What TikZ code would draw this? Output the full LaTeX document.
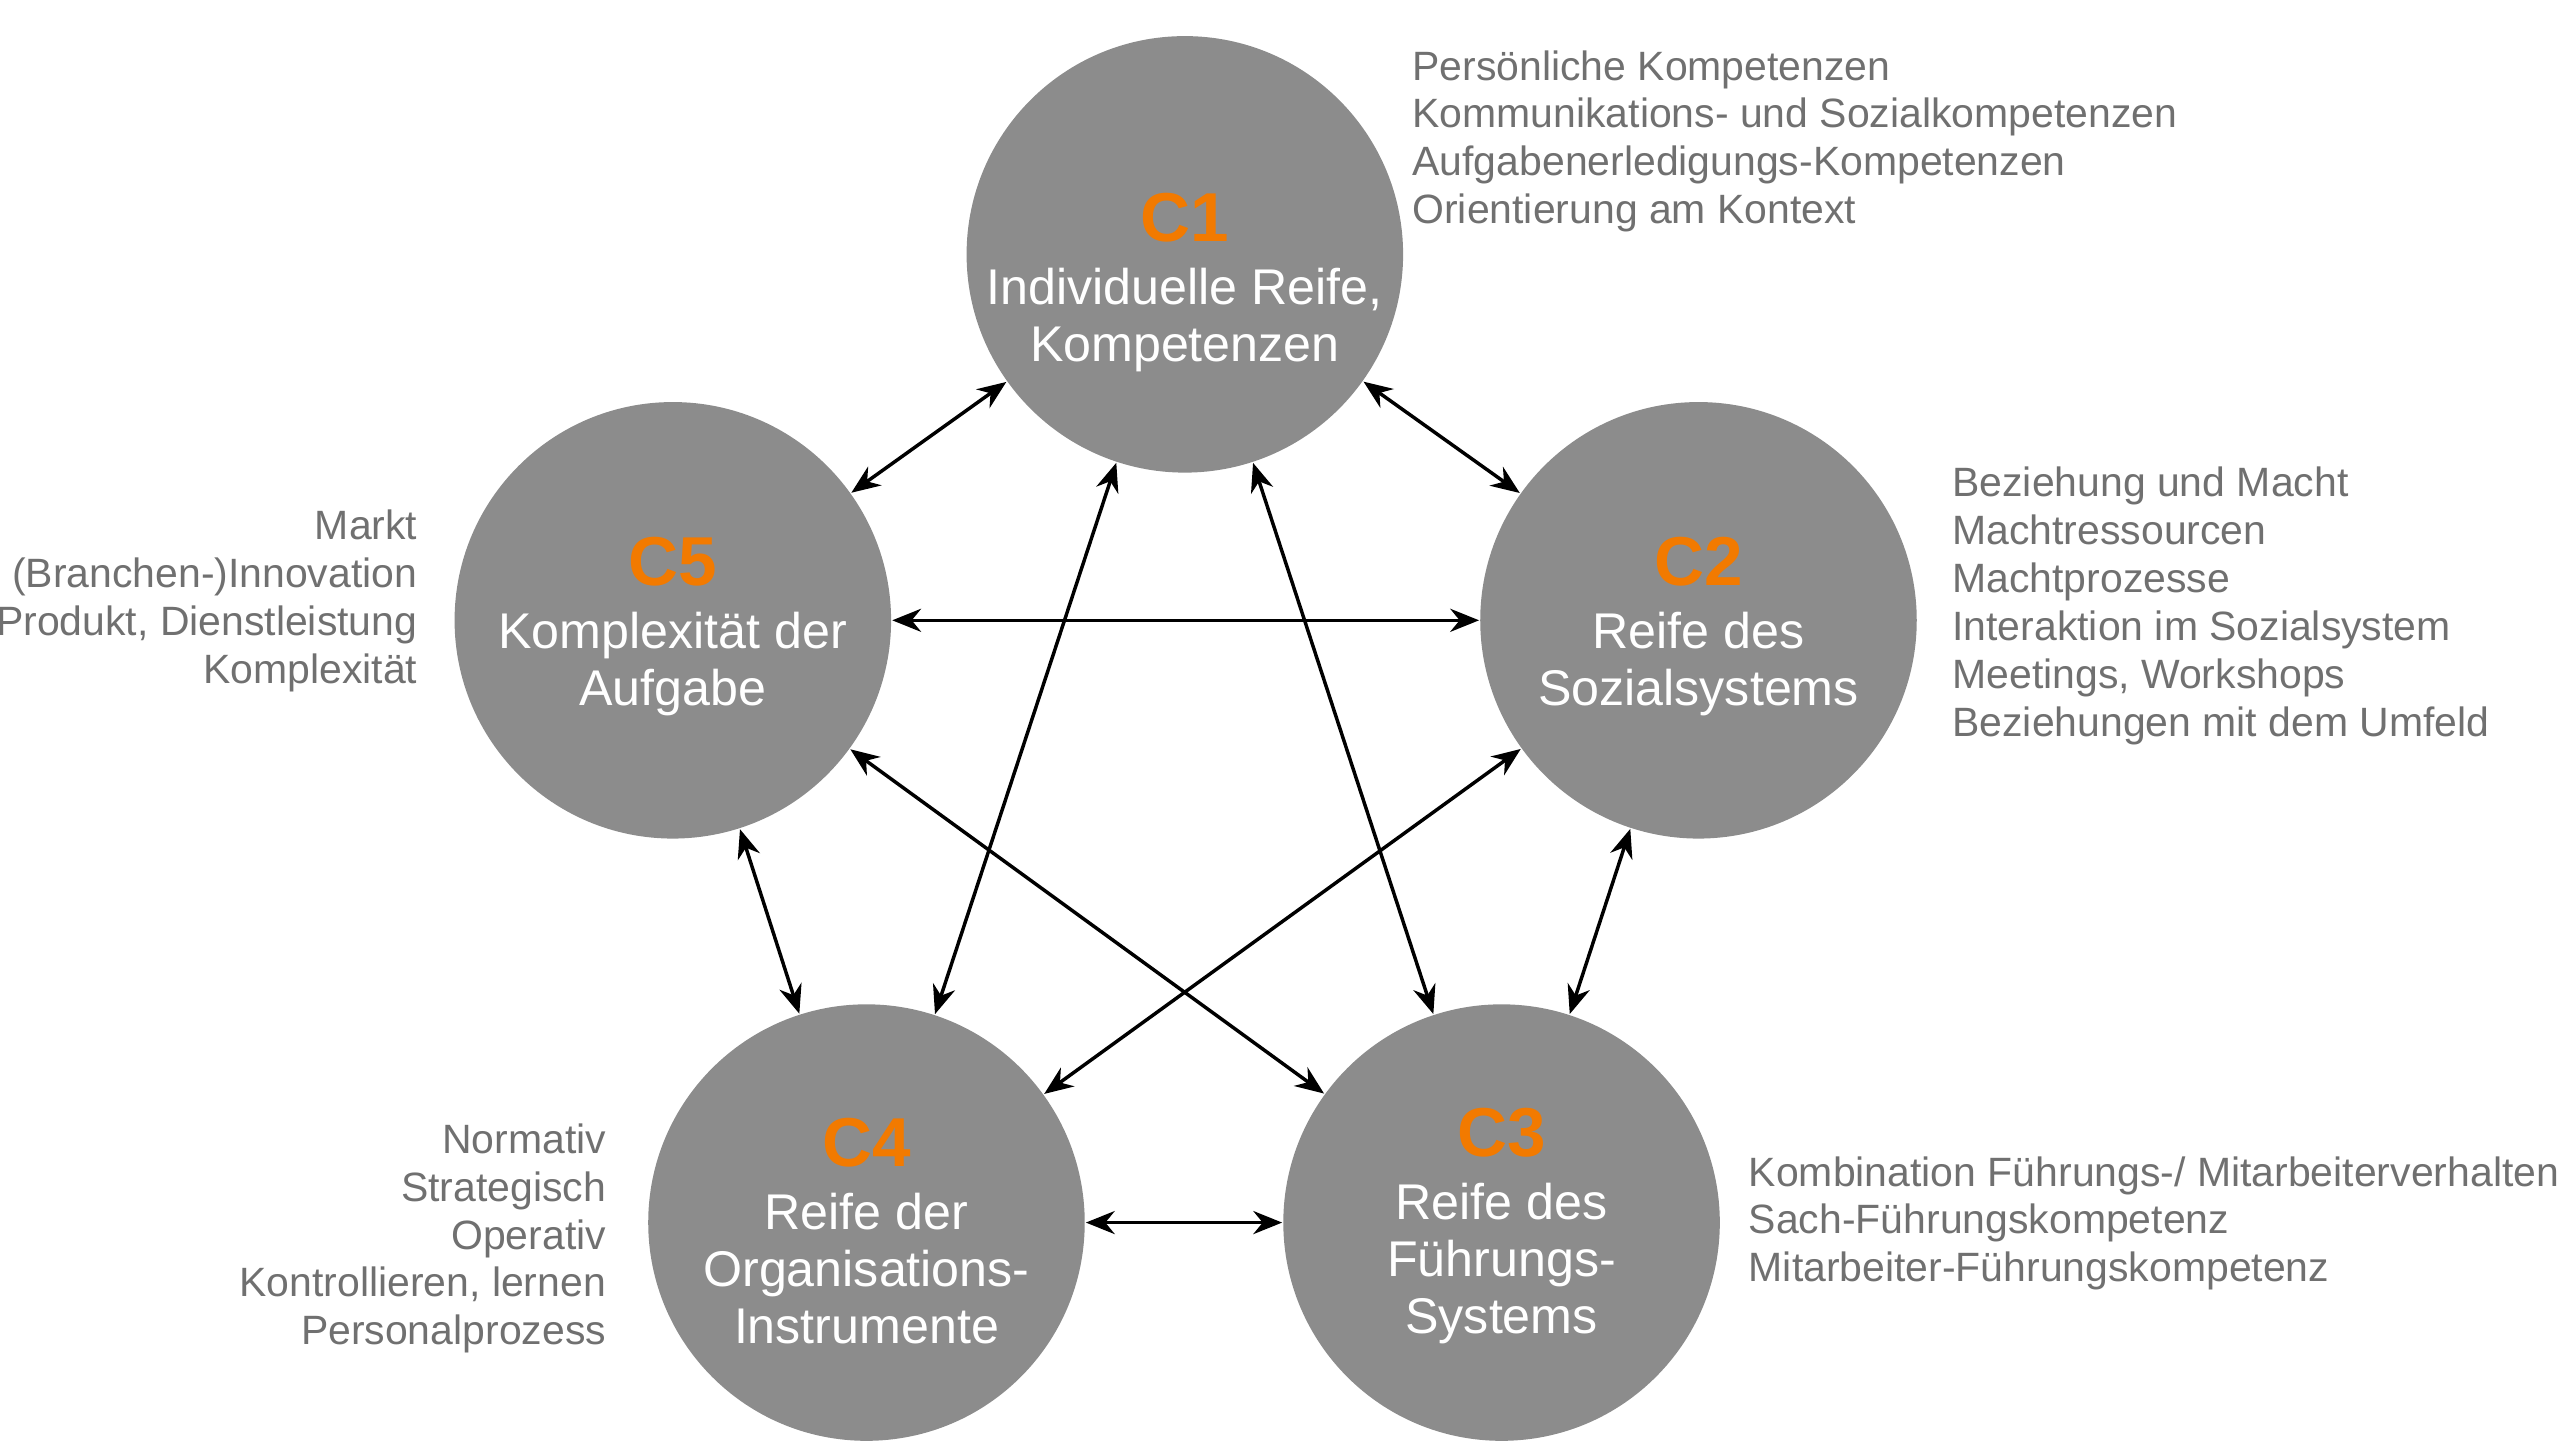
\documentclass[tikz,border=0pt]{standalone}
\usepackage{fontspec}
\setmainfont{Liberation Sans}
\usetikzlibrary{arrows.meta}
\definecolor{ballgray}{RGB}{140,140,140}
\definecolor{notegray}{RGB}{112,112,112}
\definecolor{corange}{RGB}{242,122,0}
\tikzset{
  ball/.style={circle,fill=ballgray,minimum size=2.66cm,inner sep=0pt},
  balltext/.style={align=center,text=white,font=\fontsize{8.7}{9.9}\selectfont},
  note/.style={inner sep=0pt,text=notegray,font=\fontsize{7.1}{8.3}\selectfont},
  link/.style={{Stealth[length=5pt,width=4pt]}-{Stealth[length=5pt,width=4pt]},line width=0.6pt}
}
\newcommand{\cnum}[1]{{\fontsize{12}{12}\selectfont\bfseries\color{corange}#1}}
\begin{document}
\begin{tikzpicture}
\useasboundingbox (0,0) rectangle (15.6,8.8);
% circles
\node[ball] (c1) at (7.22,7.25) {};
\node[ball] (c2) at (10.35,5.02) {};
\node[ball] (c3) at (9.15,1.35) {};
\node[ball] (c4) at (5.28,1.35) {};
\node[ball] (c5) at (4.10,5.02) {};
% texts inside
\node[balltext] (t1) at ([yshift=-0.17cm]c1.center) {\cnum{C1}\\[1pt]Individuelle Reife,\\Kompetenzen};
\node[balltext] (t2) at ([yshift=-0.04cm]c2.center) {\cnum{C2}\\[1pt]Reife des\\Sozialsystems};
\node[balltext] (t3) at ([yshift=-0.02cm]c3.center) {\cnum{C3}\\[1pt]Reife des\\Führungs-\\Systems};
\node[balltext] (t4) at ([yshift=-0.05cm]c4.center) {\cnum{C4}\\[1pt]Reife der\\Organisations-\\Instrumente};
\node[balltext] (t5) at ([yshift=-0.04cm]c5.center) {\cnum{C5}\\[1pt]Komplexität der\\Aufgabe};
% arrows
\draw[link] (c1) -- (c2);
\draw[link] (c1) -- (c5);
\draw[link] (c1) -- (c3);
\draw[link] (c1) -- (c4);
\draw[link] (c2) -- (c5);
\draw[link] (c2) -- (c3);
\draw[link] (c2) -- (c4);
\draw[link] (c5) -- (c4);
\draw[link] (c5) -- (c3);
\draw[link] (c4) -- (c3);
% notes
\node[note,anchor=north west,align=left] (n1) at (8.60,8.50) {Persönliche Kompetenzen\\Kommunikations- und Sozialkompetenzen\\Aufgabenerledigungs-Kompetenzen\\Orientierung am Kontext};
\node[note,anchor=north west,align=left] (n2) at (11.89,5.96) {Beziehung und Macht\\Machtressourcen\\Machtprozesse\\Interaktion im Sozialsystem\\Meetings, Workshops\\Beziehungen mit dem Umfeld};
\node[note,anchor=north west,align=left] (n3) at (10.65,1.76) {Kombination Führungs-/ Mitarbeiterverhalten\\Sach-Führungskompetenz\\Mitarbeiter-Führungskompetenz};
\node[note,anchor=north east,align=right] (n4) at (3.70,1.96) {Normativ\\Strategisch\\Operativ\\Kontrollieren, lernen\\Personalprozess};
\node[note,anchor=north east,align=right] (n5) at (2.55,5.70) {Markt\\(Branchen-)Innovation\\Produkt, Dienstleistung\\Komplexität};
\end{tikzpicture}
\end{document}
